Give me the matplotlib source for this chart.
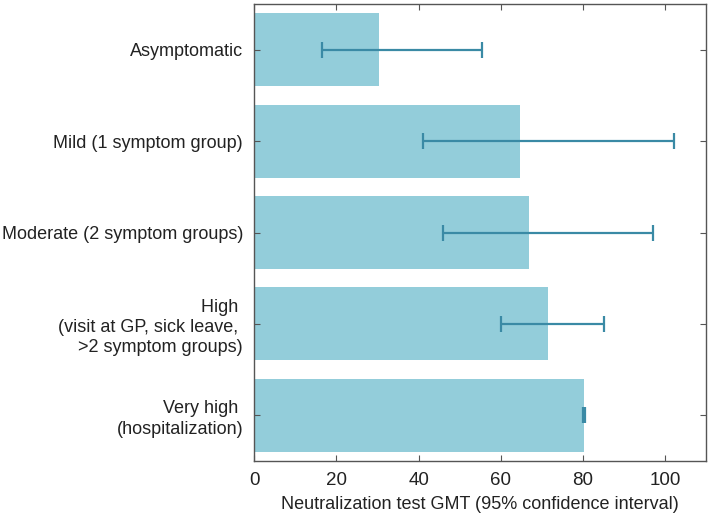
import numpy as np
import matplotlib.pyplot as plt

plt.rcParams['font.family'] = ['Liberation Sans', 'DejaVu Sans']

# severity categories, top to bottom
labels = ["Asymptomatic",
          "Mild (1 symptom group)",
          "Moderate (2 symptom groups)",
          "High \n(visit at GP, sick leave, \n>2 symptom groups)",
          "Very high \n(hospitalization)"]
gmt = [30.4, 64.6, 66.8, 71.4, 80.2]
ci_low = [16.6, 41.1, 45.9, 60.0, 80.0]
ci_high = [55.4, 102.0, 96.9, 85.0, 80.4]

bar_color = '#93cdda'
err_color = '#3a8aa5'

fig = plt.figure(figsize=(7.1, 5.22), dpi=100)
ax = fig.add_axes([0.358, 0.117, 0.637, 0.875])

y = np.arange(len(labels))
ax.barh(y, gmt, height=0.8, color=bar_color)
xerr = [np.array(gmt) - np.array(ci_low), np.array(ci_high) - np.array(gmt)]
ax.errorbar(gmt, y, xerr=xerr, fmt='none', ecolor=err_color,
            elinewidth=1.6, capsize=6, capthick=1.6)

ax.set_yticks(y)
ax.set_yticklabels(labels, fontsize=13, color='#222222', linespacing=1.25)
ax.set_ylim(len(labels) - 0.5, -0.5)
ax.set_xlim(0, 110)
ax.set_xticks([0, 20, 40, 60, 80, 100])
ax.tick_params(axis='x', labelsize=13.5, labelcolor='#222222', pad=8)
ax.tick_params(direction='in', top=True, right=True, length=4, color='#555555')
ax.tick_params(axis='y', pad=8)
ax.set_xlabel('Neutralization test GMT (95% confidence interval)', fontsize=13, color='#222222', labelpad=5)
for s in ax.spines.values():
    s.set_color('#555555')
    s.set_linewidth(1.0)

plt.savefig('out.png', dpi=100)
